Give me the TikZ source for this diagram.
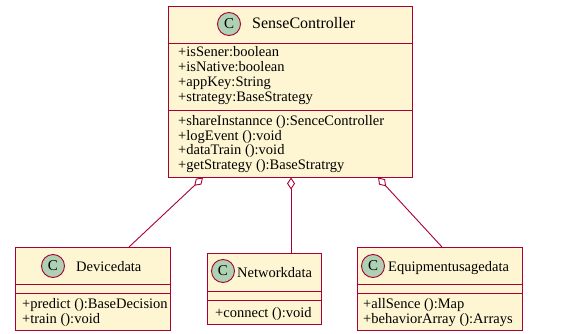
\documentclass[tikz,border=0pt]{standalone}
\usepackage{fontspec}
\setmainfont{Liberation Serif}
\usetikzlibrary{arrows.meta}
\definecolor{umlred}{HTML}{A80036}
\definecolor{umlfill}{HTML}{FEF6D2}
\definecolor{umlcirc}{HTML}{ADD1B2}
\begin{document}
\begin{tikzpicture}[x=1pt,y=-1pt,
  classbox/.style={draw=umlred, fill=umlfill, line width=0.9pt, inner sep=0, anchor=north west},
  circ/.style={circle, draw=umlred, fill=umlcirc, minimum size=23pt, inner sep=0, line width=0.9pt, font=\fontsize{15}{15}\selectfont},
  txt/.style={anchor=base west, inner sep=0, font=\fontsize{14.5}{15}\selectfont},
  ttl/.style={anchor=base west, inner sep=0, font=\fontsize{14.5}{15}\selectfont},
  sep/.style={draw=umlred, line width=0.9pt},
  link/.style={draw=umlred, line width=0.9pt, {Diamond[open, fill=white, length=12pt, width=8pt]}-}]
\useasboundingbox (0,0) rectangle (576,334);
% SenseController
\node[classbox, minimum width=244pt, minimum height=171pt] (sc) at (168,6) {};
\draw[sep] (168,43) -- (412,43);
\draw[sep] (168,110) -- (412,110);
\node[circ] (scc) at (229,24) {C};
\node[ttl, font=\fontsize{16}{16}\selectfont] (sct) at (252,29) {SenseController};
\node[txt] (a1) at (178,57) {+isSener:boolean};
\node[txt] (a2) at (178,72) {+isNative:boolean};
\node[txt] (a3) at (178,87) {+appKey:String};
\node[txt] (a4) at (178,102) {+strategy:BaseStrategy};
\node[txt] (m1) at (178,126) {+shareInstannce ():SenceController};
\node[txt] (m2) at (178,141) {+logEvent ():void};
\node[txt] (m3) at (178,155) {+dataTrain ():void};
\node[txt] (m4) at (178,170) {+getStrategy ():BaseStratrgy};
% Devicedata
\node[classbox, minimum width=155pt, minimum height=83pt] (dev) at (15,247) {};
\draw[sep] (15,284) -- (170,284);
\draw[sep] (15,293) -- (170,293);
\node[circ] (devc) at (53,266) {C};
\node[ttl] (devt) at (76,271) {Devicedata};
\node[txt] (d1) at (22,308) {+predict ():BaseDecision};
\node[txt] (d2) at (22,323) {+train ():void};
% Networkdata
\node[classbox, minimum width=114pt, minimum height=71pt] (net) at (207,253) {};
\draw[sep] (207,291) -- (321,291);
\draw[sep] (207,300) -- (321,300);
\node[circ] (netc) at (223,271) {C};
\node[ttl] (nett) at (237,277) {Networkdata};
\node[txt] (n1) at (215,317) {+connect ():void};
% Equipmentusagedata
\node[classbox, minimum width=165pt, minimum height=83pt] (eq) at (357,247) {};
\draw[sep] (357,284) -- (522,284);
\draw[sep] (357,293) -- (522,293);
\node[circ] (eqc) at (373,266) {C};
\node[ttl] (eqt) at (388,271) {Equipmentusagedata};
\node[txt] (e1) at (363,308) {+allSence ():Map};
\node[txt] (e2) at (363,323) {+behaviorArray ():Arrays};
% connectors
\coordinate (s1) at (203,177.5);
\coordinate (s2) at (291,177.5);
\coordinate (s3) at (378,177.5);
\coordinate (t1) at (129,247);
\coordinate (t3) at (442,247);
\draw[link] (s1) -- (t1);
\draw[link] (s2) -- (s2 |- net.north);
\draw[link] (s3) -- (t3);
\end{tikzpicture}
\end{document}
